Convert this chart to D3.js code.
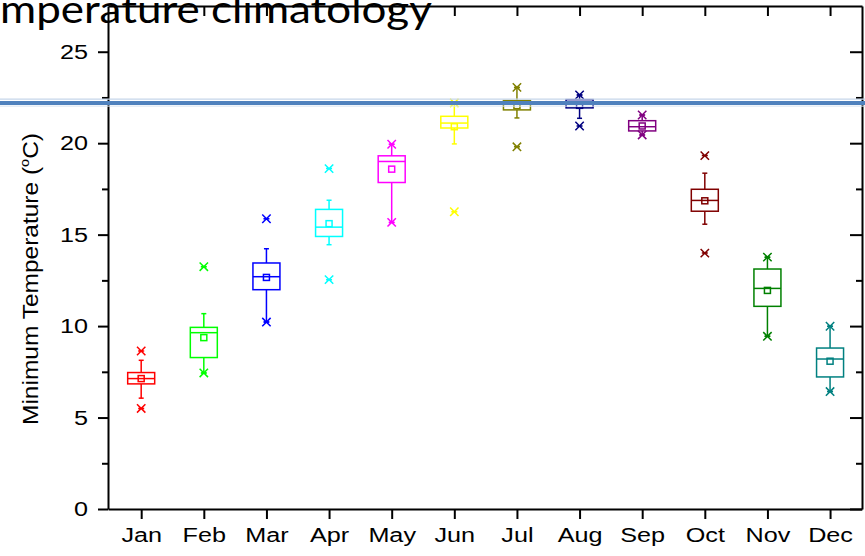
<!DOCTYPE html>
<html>
<head>
<meta charset="utf-8">
<script src="https://cdn.jsdelivr.net/npm/d3@7"></script>
<style>
  html, body { margin: 0; padding: 0; background: #fff; }
  svg { display: block; }
</style>
</head>
<body>
<svg id="chart" width="865" height="556"></svg>
<script>
// ---- data ----
const months = ["Jan","Feb","Mar","Apr","May","Jun","Jul","Aug","Sep","Oct","Nov","Dec"];
const colors = ["#FF0000","#00FF00","#0000FF","#00FFFF","#FF00FF","#FFFF00","#808000","#000080","#800080","#800000","#008000","#008080"];
const p99         = [8.64, 13.25, 15.87, 18.61, 19.94, 22.20, 23.05, 22.64, 21.54, 19.32, 13.77, 9.99];
const whiskerHigh = [8.13, 10.68, 14.23, 16.88, 19.94, 22.20, 23.05, 22.64, 21.54, 18.36, 13.77, 9.99];
const q3          = [7.46,  9.93, 13.45, 16.38, 19.31, 21.47, 22.33, 22.38, 21.23, 17.48, 13.12, 8.80];
const median      = [7.13,  9.64, 12.70, 15.41, 19.00, 21.10, 22.14, 22.14, 20.90, 16.87, 12.06, 8.20];
const mean        = [7.13,  9.37, 12.66, 15.60, 18.58, 20.90, 22.05, 22.07, 20.94, 16.85, 11.95, 8.08];
const q1          = [6.84,  8.28, 11.99, 14.90, 17.85, 20.83, 21.82, 21.93, 20.67, 16.28, 11.08, 7.22];
const whiskerLow  = [6.06,  7.44, 10.22, 14.45, 15.67, 19.96, 21.38, 21.36, 20.45, 15.57, 9.44, 6.42];
const p1          = [5.50,  7.44, 10.22, 12.54, 15.67, 16.25, 19.80, 20.94, 20.45, 13.99, 9.44, 6.42];
const yMajorTicks = [0, 5, 10, 15, 20, 25];
const yMinorTicks = [2.5, 7.5, 12.5, 17.5, 22.5];
const refLineValue = 22.19;
const titleText = "Temperature climatology";
const yLabelMain = "Minimum Temperature (";
const yLabelSup = "o";
const yLabelEnd = "C)";

// ---- layout ----
const W = 865, H = 556;
const L = 108, R = 862, T = 6, B = 509;
const svg = d3.select("#chart");
svg.append("rect").attr("width", W).attr("height", H).attr("fill", "#fff");

const x = d3.scaleLinear().domain([0.47, 12.51]).range([L, R]);
const y = d3.scaleLinear().domain([0, 27.5]).range([B, T]);

const fontAxis = "'Liberation Sans', Arial, sans-serif";
const sx = 1.2;

// title (partly cut off on the left, as in the reference)
const tg = svg.append("g");
const tt = tg.append("text").attr("x", 0).attr("y", 0)
  .attr("font-family", "Lato, 'Open Sans', sans-serif").attr("font-size", 38)
  .attr("fill", "#000").text(titleText);
const pre = tt.node().getSubStringLength(0, 2);
const vis = tt.node().getSubStringLength(2, titleText.length - 2);
const tsx = 432 / vis;
tg.attr("transform", `translate(${-tsx * pre},23) scale(${tsx},1)`);

// boxes
const stroke = 1.5;
const boxW = 27, capW = 5, meanS = 6, xs = 4.2;
const groups = svg.append("g").selectAll("g").data(months).join("g")
  .attr("transform", (d, i) => `translate(${x(i + 1)},0)`)
  .attr("fill", "none").attr("stroke-width", stroke)
  .attr("stroke", (d, i) => colors[i]);

groups.append("line").attr("x1", 0).attr("x2", 0)
  .attr("y1", (d, i) => y(whiskerHigh[i])).attr("y2", (d, i) => y(q3[i]));
groups.append("line").attr("x1", 0).attr("x2", 0)
  .attr("y1", (d, i) => y(q1[i])).attr("y2", (d, i) => y(whiskerLow[i]));
groups.append("line").attr("x1", -capW / 2).attr("x2", capW / 2)
  .attr("y1", (d, i) => y(whiskerHigh[i])).attr("y2", (d, i) => y(whiskerHigh[i]));
groups.append("line").attr("x1", -capW / 2).attr("x2", capW / 2)
  .attr("y1", (d, i) => y(whiskerLow[i])).attr("y2", (d, i) => y(whiskerLow[i]));
groups.append("rect").attr("x", -boxW / 2).attr("width", boxW)
  .attr("y", (d, i) => y(q3[i])).attr("height", (d, i) => y(q1[i]) - y(q3[i]));
groups.append("line").attr("x1", -boxW / 2).attr("x2", boxW / 2)
  .attr("y1", (d, i) => y(median[i])).attr("y2", (d, i) => y(median[i]));
groups.append("rect").attr("x", -meanS / 2).attr("width", meanS).attr("height", meanS)
  .attr("y", (d, i) => y(mean[i]) - meanS / 2);

function cross(sel, arr) {
  sel.append("path").attr("d", (d, i) => {
    const cy = y(arr[i]);
    return `M${-xs},${cy - xs}L${xs},${cy + xs}M${-xs},${cy + xs}L${xs},${cy - xs}M${-3},${cy}L${3},${cy}`;
  });
}
cross(groups, p99);
cross(groups, p1);

// axes
function styleAxis(g) {
  g.selectAll("path.domain").attr("stroke", "#000").attr("stroke-width", 2);
  g.selectAll(".tick line").attr("stroke", "#000").attr("stroke-width", 2);
}
const gx = svg.append("g").attr("transform", `translate(0,${B})`)
  .call(d3.axisBottom(x).tickValues(d3.range(1, 13)).tickFormat(v => months[v - 1]).tickSize(10).tickSizeOuter(0));
gx.selectAll("text").attr("font-family", fontAxis).attr("font-size", 21).attr("fill", "#000")
  .attr("y", 33.5).attr("dy", 0).attr("transform", `scale(${sx},1)`);
styleAxis(gx);

const gxt = svg.append("g").attr("transform", `translate(0,${T})`)
  .call(d3.axisTop(x).tickValues(d3.range(1, 13)).tickFormat("").tickSize(-10).tickSizeOuter(0));
styleAxis(gxt);

const gy = svg.append("g").attr("transform", `translate(${L},0)`)
  .call(d3.axisLeft(y).tickValues(yMajorTicks).tickFormat(d3.format("d")).tickSize(10).tickSizeOuter(0));
gy.selectAll("text").attr("font-family", fontAxis).attr("font-size", 21).attr("fill", "#000")
  .attr("x", -20 / sx).attr("transform", `scale(${sx},1)`);
styleAxis(gy);
const gym = svg.append("g").attr("transform", `translate(${L},0)`)
  .call(d3.axisLeft(y).tickValues(yMinorTicks).tickFormat("").tickSize(6).tickSizeOuter(0));
styleAxis(gym);
gym.select("path.domain").remove();

const gr = svg.append("g").attr("transform", `translate(${R},0)`)
  .call(d3.axisRight(y).tickValues(yMajorTicks).tickFormat("").tickSize(-12).tickSizeOuter(0));
styleAxis(gr);
const grm = svg.append("g").attr("transform", `translate(${R},0)`)
  .call(d3.axisRight(y).tickValues(yMinorTicks).tickFormat("").tickSize(-6).tickSizeOuter(0));
styleAxis(grm);
grm.select("path.domain").remove();

// y-axis title
const yl = svg.append("text")
  .attr("transform", `translate(37.5,279) rotate(-90)`)
  .attr("text-anchor", "middle")
  .attr("font-family", fontAxis).attr("font-size", 22).attr("fill", "#000")
  .attr("textLength", 292).attr("lengthAdjust", "spacingAndGlyphs");
yl.append("tspan").text(yLabelMain);
yl.append("tspan").attr("dy", -9).attr("font-size", 13).text(yLabelSup);
yl.append("tspan").attr("dy", 9).text(yLabelEnd);

// horizontal reference band (blue overlay line)
const yr = y(refLineValue);
const band = svg.append("g");
band.append("line").attr("x1", 0).attr("x2", W).attr("y1", yr - 4).attr("y2", yr - 4)
  .attr("stroke", "#c6d6ea").attr("stroke-width", 1.2);
band.append("line").attr("x1", 0).attr("x2", W).attr("y1", yr).attr("y2", yr)
  .attr("stroke", "#4f81bd").attr("stroke-width", 4);
band.append("line").attr("x1", 0).attr("x2", W).attr("y1", yr + 3).attr("y2", yr + 3)
  .attr("stroke", "#d6e2f0").attr("stroke-width", 1);
</script>
</body>
</html>
